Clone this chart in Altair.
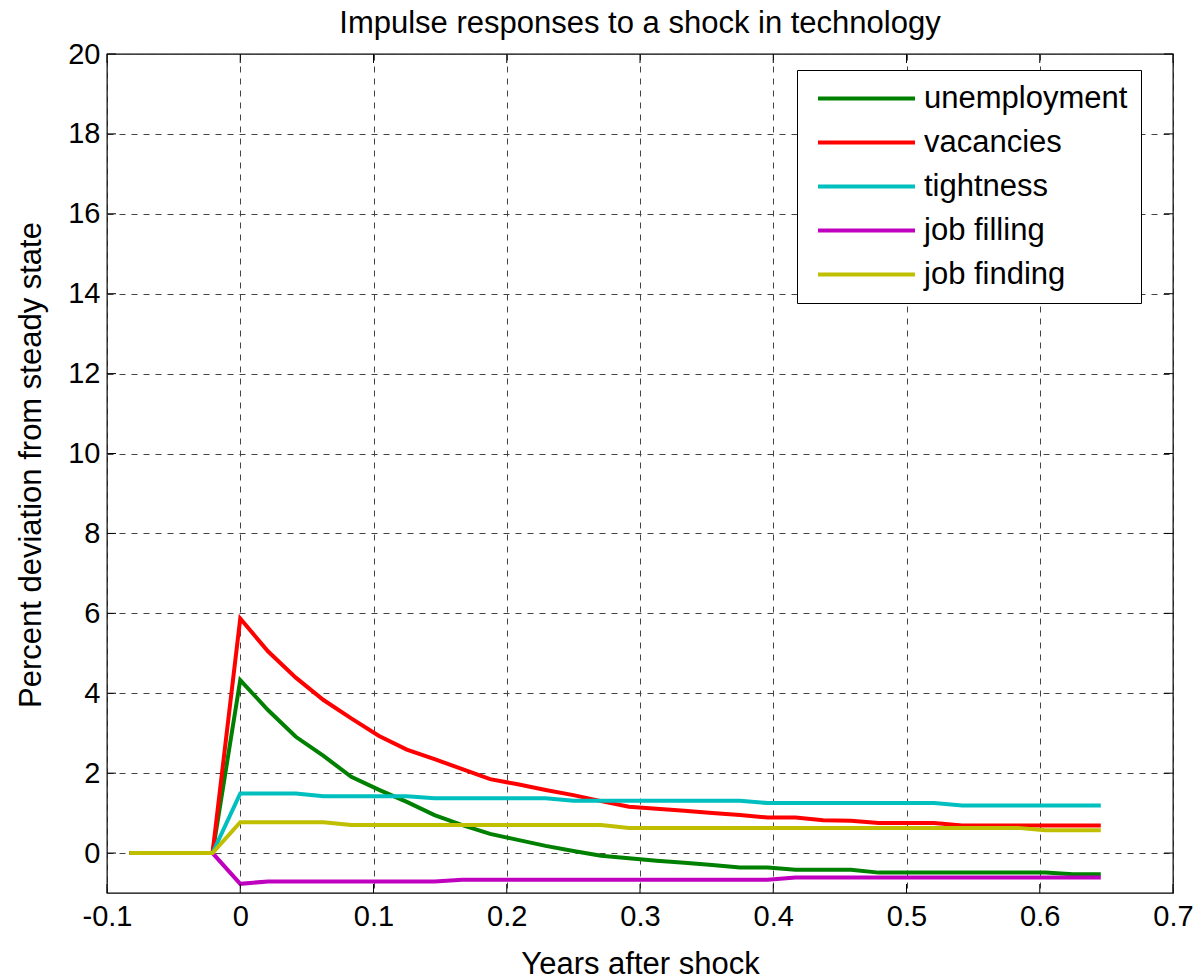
import altair as alt
import pandas as pd

# ---- data ----
years = [-0.0833, -0.0625, -0.0417, -0.0208, 0.0, 0.0208, 0.0417, 0.0625, 0.0833,
         0.1042, 0.125, 0.1458, 0.1667, 0.1875, 0.2083, 0.2292, 0.25, 0.2708,
         0.2917, 0.3125, 0.3333, 0.3542, 0.375, 0.3958, 0.4167, 0.4375, 0.4583,
         0.4792, 0.5, 0.5208, 0.5417, 0.5625, 0.5833, 0.6042, 0.625, 0.6458]

unemployment = [0, 0, 0, 0,
                4.33, 3.58, 2.91, 2.43, 1.91, 1.58, 1.28, 0.95, 0.70, 0.48, 0.33, 0.18,
                0.05, -0.07, -0.13, -0.19, -0.24, -0.30, -0.36, -0.36, -0.42, -0.42,
                -0.42, -0.49, -0.49, -0.49, -0.49, -0.49, -0.49, -0.49, -0.53, -0.53]
vacancies = [0, 0, 0, 0,
             5.87, 5.05, 4.39, 3.83, 3.37, 2.93, 2.59, 2.35, 2.10, 1.85, 1.72, 1.58,
             1.45, 1.30, 1.16, 1.11, 1.06, 1.00, 0.95, 0.89, 0.89, 0.82, 0.81, 0.75,
             0.75, 0.75, 0.69, 0.69, 0.69, 0.69, 0.69, 0.69]
tightness = [0, 0, 0, 0,
             1.49, 1.49, 1.49, 1.42, 1.42, 1.42, 1.42, 1.37, 1.37, 1.37, 1.37, 1.37,
             1.31, 1.31, 1.31, 1.31, 1.31, 1.31, 1.31, 1.25, 1.25, 1.25, 1.25, 1.25,
             1.25, 1.25, 1.19, 1.19, 1.19, 1.19, 1.19, 1.19]
job_filling = [0, 0, 0, 0,
               -0.77, -0.71, -0.71, -0.71, -0.71, -0.71, -0.71, -0.71, -0.67, -0.67,
               -0.67, -0.67, -0.67, -0.67, -0.67, -0.67, -0.67, -0.67, -0.67, -0.67,
               -0.61, -0.61, -0.61, -0.61, -0.61, -0.61, -0.61, -0.61, -0.61, -0.61,
               -0.61, -0.61]
job_finding = [0, 0, 0, 0,
               0.77, 0.77, 0.77, 0.77, 0.70, 0.70, 0.70, 0.70, 0.70, 0.70, 0.70, 0.70,
               0.70, 0.70, 0.63, 0.63, 0.63, 0.63, 0.63, 0.63, 0.63, 0.63, 0.63, 0.63,
               0.63, 0.63, 0.63, 0.63, 0.63, 0.57, 0.57, 0.57]

series_names = ["unemployment", "vacancies", "tightness", "job filling", "job finding"]
series_values = [unemployment, vacancies, tightness, job_filling, job_finding]
series_colors = ["#008000", "#ff0000", "#00bfbf", "#bf00bf", "#bfbf00"]

x_ticks = [-0.1, 0.0, 0.1, 0.2, 0.3, 0.4, 0.5, 0.6, 0.7]
y_ticks = [0, 2, 4, 6, 8, 10, 12, 14, 16, 18, 20]

rows = []
for order, (name, vals) in enumerate(zip(series_names, series_values)):
    for x, v in zip(years, vals):
        rows.append({"year": x, "value": v, "series": name, "order": order})
df = pd.DataFrame(rows)
xt = pd.DataFrame({"year": x_ticks})
yt = pd.DataFrame({"value": y_ticks})

W, H = 1066, 839
FONT = "Liberation Sans"
xscale = alt.Scale(domain=[-0.1, 0.7], nice=False, zero=False)
yscale = alt.Scale(domain=[-1, 20], nice=False, zero=False)

xaxis = alt.Axis(values=x_ticks, title="Years after shock", labelFlush=False,
                 labelExpr="datum.value < 0 ? '-' + format(-datum.value, '.1f') : (datum.value == 0 ? '0' : format(datum.value, '.1f'))",
                 titleY=80, titleBaseline="alphabetic")
yaxis = alt.Axis(values=y_ticks, title="Percent deviation from steady state",
                 labelFlush=False,
                 titleX=-67, titleY=H / 2 - 9, titleAngle=-90, titleAlign="center",
                 titleBaseline="alphabetic")

lines = alt.Chart(df).mark_line(strokeWidth=4).encode(
    x=alt.X("year:Q", scale=xscale, axis=xaxis),
    y=alt.Y("value:Q", scale=yscale, axis=yaxis),
    color=alt.Color("series:N",
                    scale=alt.Scale(domain=series_names, range=series_colors),
                    sort=series_names,
                    legend=alt.Legend(title=None, orient="none", legendX=690, legendY=16,
                                      symbolType="M-4,0L4,0", symbolSize=588,
                                      symbolStrokeWidth=4, symbolOffset=41,
                                      labelOffset=42, labelFontSize=31, labelFont=FONT,
                                      labelColor="black", labelLimit=400,
                                      rowPadding=12, padding=13,
                                      fillColor="white", strokeColor="black")),
    order=alt.Order("order:Q"),
    detail="series:N",
)

tick_len = 9
ticks_bottom = alt.Chart(xt).mark_rule(color="black", strokeWidth=1).encode(
    x=alt.X("year:Q", scale=xscale, axis=xaxis), y=alt.value(H), y2=alt.value(H - tick_len))
ticks_top = alt.Chart(xt).mark_rule(color="black", strokeWidth=1).encode(
    x=alt.X("year:Q", scale=xscale, axis=xaxis), y=alt.value(0), y2=alt.value(tick_len))
ticks_left = alt.Chart(yt).mark_rule(color="black", strokeWidth=1).encode(
    y=alt.Y("value:Q", scale=yscale, axis=yaxis), x=alt.value(0), x2=alt.value(tick_len))
ticks_right = alt.Chart(yt).mark_rule(color="black", strokeWidth=1).encode(
    y=alt.Y("value:Q", scale=yscale, axis=yaxis), x=alt.value(W), x2=alt.value(W - tick_len))

chart = alt.layer(lines, ticks_bottom, ticks_top, ticks_left, ticks_right).properties(
    width=W, height=H,
    autosize=alt.AutoSizeParams(type="none"),
    padding={"left": 107, "top": 54, "right": 25, "bottom": 85},
    title=alt.TitleParams("Impulse responses to a shock in technology", fontSize=31,
                          font=FONT, fontWeight="normal", anchor="middle",
                          baseline="alphabetic", offset=23, dy=47, color="black"),
    background="white",
).configure_view(
    stroke="black", strokeWidth=1.3
).configure_axis(
    grid=True, gridDash=[6, 6], gridColor="#444", gridWidth=1,
    ticks=False, tickSize=0, domain=False,
    labelFont=FONT, labelFontSize=29, labelColor="black",
    titleFont=FONT, titleFontSize=31, titleFontWeight="normal", titleColor="black",
).configure_axisX(
    labelPadding=9
).configure_axisY(
    labelPadding=7
)

chart.save("out.html", embed_options={"renderer": "svg", "actions": False})
